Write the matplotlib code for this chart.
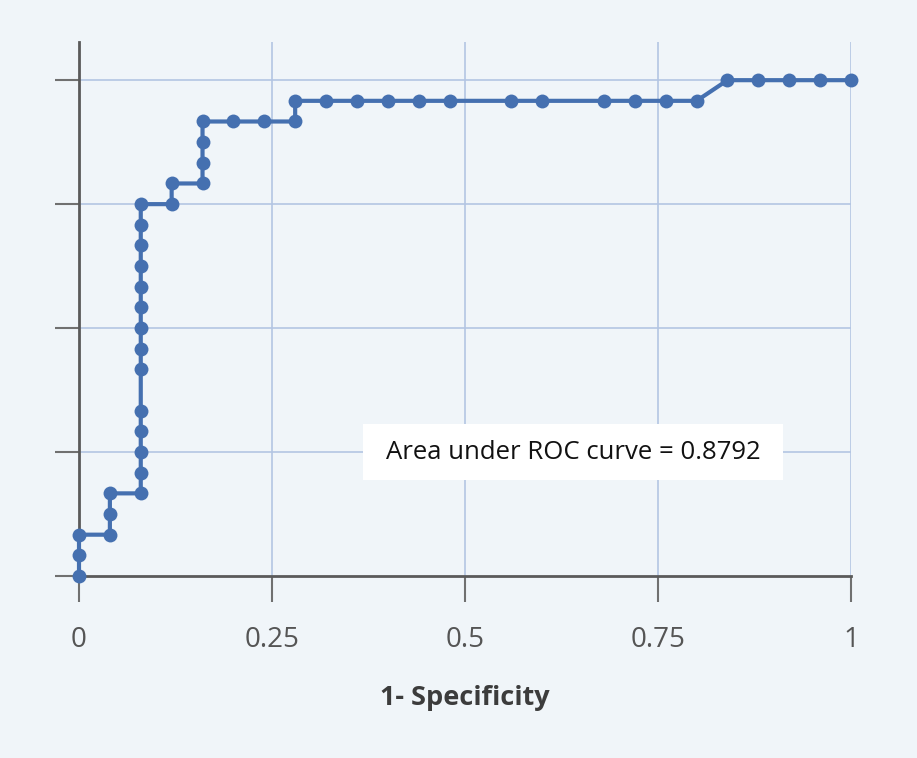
import matplotlib
matplotlib.use("Agg")
import matplotlib.pyplot as plt
from matplotlib.patches import Rectangle

# 1 - specificity (multiples of 1/25) and sensitivity (counts out of 24)
fpr = [0, 0, 0, 0.04, 0.04, 0.04, 0.08, 0.08, 0.08, 0.08, 0.08, 0.08, 0.08, 0.08,
       0.08, 0.08, 0.08, 0.08, 0.08, 0.08, 0.12, 0.12, 0.16, 0.16, 0.16, 0.16,
       0.20, 0.24, 0.28, 0.28, 0.32, 0.36, 0.40, 0.44, 0.48, 0.56, 0.60, 0.68,
       0.72, 0.76, 0.80, 0.84, 0.88, 0.92, 0.96, 1.0]
tp_counts = [0, 1, 2, 2, 3, 4, 4, 5, 6, 7, 8, 10, 11, 12,
             13, 14, 15, 16, 17, 18, 18, 19, 19, 20, 21, 22,
             22, 22, 22, 23, 23, 23, 23, 23, 23, 23, 23, 23,
             23, 23, 23, 24, 24, 24, 24, 24]
n_pos = 24
tpr = [c / n_pos for c in tp_counts]

x_ticks = [0, 0.25, 0.5, 0.75, 1]
x_tick_labels = ["0", "0.25", "0.5", "0.75", "1"]
y_ticks = [0, 0.25, 0.5, 0.75, 1]
auc_text = "Area under ROC curve = 0.8792"
x_label = "1- Specificity"

bg = "#f0f5f9"
blue = "#4570b0"
plt.rcParams['font.family'] = ['Open Sans', 'DejaVu Sans']

fig = plt.figure(figsize=(9.17, 7.58), dpi=100, facecolor=bg)
W, H = 917, 758
ax = fig.add_axes([79 / W, 1 - 576 / H, (851 - 79) / W, (576 - 42) / H])
ax.set_facecolor(bg)
ax.set_xlim(0, 1)
ax.set_ylim(0, 1.077)

# grid
for xv in x_ticks[1:]:
    ax.axvline(xv, color="#b3c5e3", lw=1.2, zorder=1)
for yv in y_ticks[1:]:
    ax.plot([0, 1], [yv, yv], color="#b3c5e3", lw=1.2, zorder=1)

ax.plot(fpr, tpr, color=blue, lw=3, marker="o", markersize=10,
        markeredgewidth=0, zorder=3, clip_on=False)

for s in ["top", "right"]:
    ax.spines[s].set_visible(False)
for s in ["left", "bottom"]:
    ax.spines[s].set_color("#5a5a5a")
    ax.spines[s].set_linewidth(2)

ax.set_xticks(x_ticks)
ax.set_xticklabels(x_tick_labels)
ax.set_yticks(y_ticks)
ax.set_yticklabels([])
ax.tick_params(axis="x", length=19, width=1.5, color="#707070", pad=17,
               labelsize=20, labelcolor="#555555")
ax.tick_params(axis="y", length=17, width=1.5, color="#707070")

ax.set_xlabel(x_label, fontsize=19.5, fontweight="bold", color="#3c3c3c", labelpad=22)

# annotation box (size in pixels converted to data units)
box_w = 420 / 772
box_h = 56 / 496
bx, by = 0.64, 0.25
ax.add_patch(Rectangle((bx - box_w / 2, by - box_h / 2), box_w, box_h,
                       facecolor="white", edgecolor="none", zorder=4))
ax.text(bx, by, auc_text, ha="center", va="center", fontsize=18.5,
        color="#111111", zorder=5)

fig.savefig("out.png", dpi=100, facecolor=bg)
